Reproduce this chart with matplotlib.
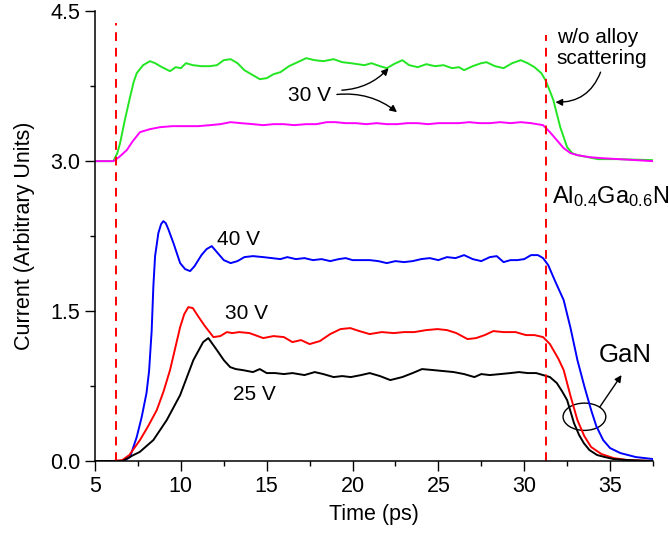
import matplotlib
matplotlib.use('Agg')
import matplotlib.pyplot as plt
from matplotlib.patches import Ellipse
from matplotlib.ticker import MultipleLocator, FormatStrFormatter

plt.rcParams['font.family'] = ['Liberation Sans', 'DejaVu Sans']
plt.rcParams['mathtext.fontset'] = 'custom'
plt.rcParams['mathtext.rm'] = 'Liberation Sans'
plt.rcParams['mathtext.it'] = 'Liberation Sans'

# 25 V (GaN)
t_25 = [5.0, 6.0, 6.6, 7.24, 7.6, 8.4, 9.18, 9.96, 10.73, 11.3, 11.6, 12.1, 12.5, 12.87, 13.2, 13.6,
        14.2, 14.6, 15.0, 15.5, 16.0, 16.5, 17.2, 17.8, 18.3, 18.9, 19.4, 19.9, 20.5, 21.0, 21.6, 22.2,
        22.9, 23.5, 24.05, 24.7, 25.3, 25.9, 26.5, 27.1, 27.5, 28.0, 28.6, 29.2, 29.7, 30.2, 30.7, 31.1,
        31.5, 31.9, 32.2, 32.5, 32.9, 33.2, 33.47, 33.8, 34.25, 34.7, 35.2, 36.0, 37.5]
i_25 = [0.0, 0.0, 0.0, 0.06, 0.09, 0.21, 0.41, 0.66, 1.01, 1.19, 1.23, 1.11, 1.01, 0.94, 0.92, 0.91,
        0.89, 0.92, 0.88, 0.88, 0.87, 0.88, 0.86, 0.89, 0.87, 0.84, 0.85, 0.84, 0.86, 0.88, 0.85, 0.81,
        0.84, 0.88, 0.92, 0.91, 0.90, 0.89, 0.87, 0.84, 0.87, 0.86, 0.87, 0.88, 0.89, 0.88, 0.88, 0.86,
        0.84, 0.78, 0.70, 0.61, 0.38, 0.26, 0.18, 0.11, 0.06, 0.04, 0.02, 0.01, 0.0]

# 30 V (GaN)
t_30 = [5.0, 6.0, 6.6, 7.0, 7.62, 8.1, 8.6, 9.0, 9.37, 9.7, 9.96, 10.2, 10.44, 10.7, 11.0, 11.4, 11.9,
        12.3, 12.68, 13.0, 13.4, 14.0, 14.8, 15.4, 16.0, 16.5, 17.0, 17.5, 18.1, 18.7, 19.3, 19.87, 20.4,
        21.0, 21.7, 22.4, 23.0, 23.6, 24.3, 24.95, 25.5, 26.05, 26.7, 27.2, 27.7, 28.2, 28.8, 29.5, 30.1,
        30.6, 31.1, 31.5, 32.0, 32.3, 32.7, 33.1, 33.5, 33.9, 34.5, 35.2, 36.0, 37.5]
i_30 = [0.0, 0.0, 0.01, 0.06, 0.21, 0.35, 0.51, 0.70, 0.91, 1.15, 1.34, 1.47, 1.54, 1.53, 1.45, 1.35, 1.24,
        1.25, 1.29, 1.28, 1.29, 1.28, 1.23, 1.25, 1.24, 1.19, 1.21, 1.17, 1.20, 1.27, 1.32, 1.33, 1.30,
        1.27, 1.29, 1.28, 1.29, 1.29, 1.31, 1.32, 1.31, 1.28, 1.22, 1.23, 1.26, 1.30, 1.29, 1.29, 1.26,
        1.26, 1.24, 1.17, 1.02, 0.91, 0.65, 0.41, 0.25, 0.14, 0.07, 0.03, 0.01, 0.0]

# 40 V (GaN)
t_40 = [5.0, 6.0, 6.66, 7.04, 7.43, 7.72, 8.0, 8.15, 8.3, 8.4, 8.5, 8.69, 8.85, 8.98, 9.12, 9.27, 9.57,
        9.96, 10.25, 10.54, 10.8, 11.2, 11.5, 11.8, 12.1, 12.5, 12.9, 13.3, 13.7, 14.2, 14.8, 15.3, 15.8,
        16.2, 16.7, 17.2, 17.7, 18.2, 18.7, 19.2, 19.6, 20.0, 20.5, 21.0, 21.5, 22.0, 22.5, 23.0, 23.5,
        24.0, 24.5, 25.0, 25.5, 26.0, 26.5, 27.0, 27.5, 28.0, 28.4, 28.8, 29.2, 29.6, 30.0, 30.4, 30.8,
        31.1, 31.4, 31.8, 32.3, 32.7, 33.1, 33.5, 33.9, 34.2, 34.6, 35.0, 35.6, 36.5, 37.5]
i_40 = [0.0, 0.0, 0.0, 0.04, 0.24, 0.44, 0.68, 0.90, 1.30, 1.75, 2.05, 2.28, 2.37, 2.40, 2.38, 2.32, 2.18,
        1.98, 1.92, 1.90, 1.95, 2.06, 2.12, 2.15, 2.09, 2.01, 1.98, 2.00, 2.04, 2.05, 2.04, 2.03, 2.02,
        2.04, 2.02, 2.03, 2.01, 2.02, 2.00, 2.02, 2.03, 2.01, 2.01, 2.01, 2.00, 1.98, 2.00, 1.99, 2.00,
        2.02, 2.03, 2.01, 2.04, 2.03, 2.06, 2.02, 2.00, 2.04, 2.05, 1.99, 2.01, 2.01, 2.02, 2.06, 2.06,
        2.03, 1.96, 1.80, 1.61, 1.33, 1.01, 0.75, 0.51, 0.35, 0.21, 0.13, 0.08, 0.04, 0.02]

# Al0.4Ga0.6N, 30 V, w/o alloy scattering
t_noalloy = [5.0, 5.5, 6.07, 6.3, 6.46, 6.75, 7.04, 7.25, 7.43, 7.8, 8.2, 8.5, 8.9, 9.37, 9.7, 10.0, 10.3,
             10.7, 11.2, 11.7, 12.1, 12.5, 12.9, 13.3, 13.7, 14.2, 14.6, 15.0, 15.4, 15.8, 16.3, 16.8,
             17.3, 17.8, 18.3, 18.9, 19.4, 19.9, 20.3, 20.7, 21.1, 21.6, 22.0, 22.4, 22.9, 23.3, 23.8,
             24.3, 24.8, 25.3, 25.8, 26.2, 26.5, 27.0, 27.5, 27.8, 28.3, 28.8, 29.3, 29.8, 30.2, 30.6,
             31.0, 31.24, 31.5, 31.7, 32.1, 32.5, 32.8, 33.1, 33.7, 34.3, 35.5, 37.5]
i_noalloy = [3.0, 3.0, 3.0, 3.08, 3.18, 3.42, 3.64, 3.79, 3.88, 3.96, 4.00, 3.98, 3.94, 3.90, 3.94, 3.93, 3.98,
             3.96, 3.95, 3.95, 3.96, 4.01, 4.02, 3.98, 3.91, 3.86, 3.82, 3.83, 3.87, 3.89, 3.95, 3.99,
             4.03, 4.01, 4.00, 4.02, 3.99, 3.98, 3.97, 3.96, 3.98, 3.95, 3.93, 3.97, 4.01, 3.96, 3.94,
             3.97, 3.95, 3.96, 3.93, 3.94, 3.91, 3.95, 3.98, 3.99, 3.95, 3.93, 3.98, 4.01, 3.98, 3.94,
             3.88, 3.81, 3.70, 3.61, 3.34, 3.14, 3.08, 3.06, 3.04, 3.02, 3.02, 3.01]

# Al0.4Ga0.6N, 30 V, with alloy scattering
t_alloy = [5.0, 5.5, 6.07, 6.4, 6.85, 7.2, 7.62, 8.2, 8.8, 9.5, 10.3, 11.0, 11.7, 12.3, 12.9, 13.5, 14.2,
           14.8, 15.4, 16.0, 16.6, 17.3, 17.9, 18.5, 19.0, 19.6, 20.2, 20.8, 21.4, 22.0, 22.6, 23.2, 23.8,
           24.4, 25.0, 25.6, 26.2, 26.8, 27.4, 28.0, 28.6, 29.2, 29.8, 30.4, 31.1, 31.5, 31.9, 32.3, 32.7,
           33.1, 33.8, 34.5, 35.5, 37.5]
i_alloy = [3.0, 3.0, 3.0, 3.04, 3.11, 3.20, 3.29, 3.32, 3.34, 3.35, 3.35, 3.35, 3.36, 3.37, 3.39, 3.38, 3.37,
           3.36, 3.37, 3.37, 3.36, 3.37, 3.37, 3.39, 3.39, 3.38, 3.38, 3.37, 3.38, 3.37, 3.37, 3.38, 3.38,
           3.37, 3.38, 3.38, 3.38, 3.39, 3.38, 3.38, 3.39, 3.38, 3.39, 3.38, 3.36, 3.29, 3.21, 3.13, 3.08,
           3.06, 3.04, 3.03, 3.02, 3.0]

fig = plt.figure(figsize=(6.69, 5.33), dpi=100)
ax = fig.add_axes([0.142, 0.135, 0.834, 0.844])

lw = 1.4
ax.plot(t_noalloy, i_noalloy, color='#22e622', lw=lw)
ax.plot(t_alloy, i_alloy, color='#ff00ff', lw=lw)
ax.plot(t_40, i_40, color='#0000ff', lw=lw)
ax.plot(t_30, i_30, color='#ff0000', lw=lw)
ax.plot(t_25, i_25, color='black', lw=lw)

# interface markers
ax.plot([6.25, 6.25], [0, 4.38], color='#ff0000', lw=1.4, ls=(0, (4.5, 3.5)))
ax.plot([31.25, 31.25], [0, 4.26], color='#ff0000', lw=1.4, ls=(0, (4.5, 3.5)))

ax.set_xlim(5, 37.5)
ax.set_ylim(0, 4.5)
ax.xaxis.set_major_locator(MultipleLocator(5))
ax.xaxis.set_minor_locator(MultipleLocator(2.5))
ax.yaxis.set_major_locator(MultipleLocator(1.5))
ax.yaxis.set_minor_locator(MultipleLocator(0.75))
ax.yaxis.set_major_formatter(FormatStrFormatter('%.1f'))
ax.tick_params(which='major', direction='out', length=7, width=1.0, labelsize=15.5)
ax.tick_params(which='minor', direction='out', length=3.6, width=1.0)
for s in ['top', 'right']:
    ax.spines[s].set_visible(False)
for s in ['left', 'bottom']:
    ax.spines[s].set_linewidth(1.1)

ax.set_xlabel('Time (ps)', fontsize=15.5, labelpad=5)
ax.set_ylabel('Current (Arbitrary Units)', fontsize=15.5, labelpad=11)

fs = 15
ax.text(17.48, 3.66, '30 V', fontsize=fs, ha='center', va='center')
ax.text(13.34, 2.22, '40 V', fontsize=fs, ha='center', va='center')
ax.text(13.84, 1.48, '30 V', fontsize=fs, ha='center', va='center')
ax.text(14.27, 0.67, '25 V', fontsize=fs, ha='center', va='center')
ax.text(35.9, 1.06, 'GaN', fontsize=18.5, ha='center', va='center')
ax.text(31.9, 4.13, 'w/o alloy\nscattering', fontsize=15, ha='left', va='center', linespacing=1.1)
ax.text(31.6, 2.65, r'Al$_{0.4}$Ga$_{0.6}$N', fontsize=17, ha='left', va='center')

arrow = dict(arrowstyle='-|>', color='black', lw=1.0, mutation_scale=10, shrinkA=0, shrinkB=0)
ax.annotate('', xy=(22.1, 3.93), xytext=(19.38, 3.71),
            arrowprops=dict(arrow, connectionstyle='arc3,rad=0.2'))
ax.annotate('', xy=(22.59, 3.49), xytext=(19.09, 3.667),
            arrowprops=dict(arrow, connectionstyle='arc3,rad=-0.2'))
ax.annotate('', xy=(31.82, 3.59), xytext=(34.45, 3.89),
            arrowprops=dict(arrow, connectionstyle='arc3,rad=-0.35'))
ax.annotate('', xy=(35.67, 0.86), xytext=(34.4, 0.54), arrowprops=arrow)

ax.add_patch(Ellipse((33.51, 0.443), 2.49, 0.273, fill=False, color='black', lw=1.0))

fig.savefig('out.png', dpi=100)
